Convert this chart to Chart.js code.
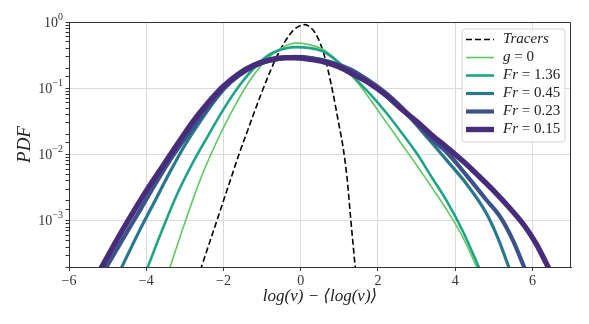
<!DOCTYPE html>
<html><head><meta charset="utf-8">
<script src="https://cdn.jsdelivr.net/npm/chart.js@4.4.0/dist/chart.umd.min.js"></script>
<style>html,body{margin:0;padding:0;background:#fff}</style>
</head><body>
<canvas id="c" width="589" height="324"></canvas>
<script>
// ---- data (x = log(nu) - <log(nu)>, y = PDF) ----
const seriesLabels = ['Tracers', 'g = 0', 'Fr = 1.36', 'Fr = 0.45', 'Fr = 0.23', 'Fr = 0.15'];

const tracerX   = [-2.6,-2.4,-2.2,-2.0,-1.8,-1.6,-1.4,-1.2,-1.0,-0.8,-0.6,-0.4,-0.2,0.0,0.1,0.2,0.4,0.6,0.8,1.0,1.1,1.2,1.3,1.42];
const tracerPDF = [1.78e-4,3.98e-4,8.91e-4,2.0e-3,4.47e-3,0.0100,0.0209,0.0437,0.0891,0.174,0.316,0.513,0.741,0.891,0.912,0.871,0.646,0.331,0.107,0.0263,0.0126,4.47e-3,1.0e-3,1.78e-4];

const g0X   = [-3.4,-3.0,-2.6,-2.2,-1.8,-1.4,-1.0,-0.6,-0.3,-0.1,0.2,0.6,1.0,1.4,1.8,2.2,2.6,3.0,3.4,3.8,4.2,4.6];
const g0PDF = [1.86e-4,9.33e-4,4.17e-3,0.0145,0.0427,0.110,0.229,0.372,0.457,0.479,0.457,0.380,0.245,0.138,0.0676,0.0316,0.0148,6.92e-3,3.16e-3,1.41e-3,5.62e-4,1.78e-4];

const fr136X   = [-4.0,-3.6,-3.2,-2.8,-2.4,-2.0,-1.6,-1.2,-0.8,-0.4,-0.1,0.2,0.6,1.0,1.4,1.8,2.2,2.6,3.0,3.4,3.8,4.2,4.65];
const fr136PDF = [1.74e-4,6.92e-4,2.51e-3,7.41e-3,0.0191,0.0479,0.107,0.204,0.324,0.398,0.417,0.407,0.355,0.240,0.141,0.0813,0.0437,0.0219,0.0105,4.47e-3,1.91e-3,6.92e-4,1.78e-4];

const fr045X   = [-4.65,-4.2,-3.8,-3.4,-3.0,-2.6,-2.2,-1.8,-1.4,-1.0,-0.6,-0.15,0.3,0.8,1.3,1.8,2.3,2.8,3.3,3.8,4.3,4.8,5.1,5.4];
const fr045PDF = [1.9e-4,6.61e-4,1.86e-3,5.25e-3,0.0138,0.0316,0.0676,0.126,0.191,0.240,0.282,0.302,0.288,0.245,0.186,0.120,0.0708,0.0372,0.0174,7.94e-3,3.55e-3,1.32e-3,5.62e-4,1.91e-4];

const fr023X   = [-5.05,-4.6,-4.2,-3.8,-3.4,-3.0,-2.6,-2.2,-1.8,-1.4,-1.0,-0.6,-0.15,0.3,0.8,1.3,1.8,2.3,2.8,3.3,3.8,4.3,4.8,5.2,5.5,5.8];
const fr023PDF = [1.91e-4,5.37e-4,1.32e-3,3.31e-3,7.94e-3,0.0174,0.0363,0.0724,0.126,0.186,0.240,0.275,0.295,0.282,0.245,0.191,0.126,0.0759,0.0398,0.0191,0.0105,4.79e-3,2.09e-3,1.07e-3,5.01e-4,1.91e-4];

const fr015X   = [-5.2,-4.8,-4.4,-4.0,-3.6,-3.2,-2.8,-2.4,-2.0,-1.6,-1.2,-0.8,-0.4,-0.15,0.2,0.6,1.0,1.4,1.8,2.2,2.6,3.0,3.4,3.8,4.2,4.6,5.0,5.4,5.8,6.1,6.45];
const fr015PDF = [1.78e-4,4.68e-4,1.17e-3,2.82e-3,6.31e-3,0.0141,0.0309,0.0603,0.107,0.166,0.224,0.269,0.288,0.288,0.275,0.251,0.209,0.158,0.117,0.0794,0.0490,0.0316,0.0195,0.0126,7.94e-3,4.79e-3,2.82e-3,1.58e-3,8.32e-4,4.47e-4,1.78e-4];

const xTickValues = [-6,-4,-2,0,2,4,6];
const xTickLabels = ['\u22126','\u22124','\u22122','0','2','4','6'];
const yDecades   = [1, 0.1, 0.01, 0.001];
const yExponents = ['0','\u22121','\u22122','\u22123'];

// ---- styling ----
const SERIF = '"Liberation Serif", "DejaVu Serif", serif';
const colors = ['#000000', '#5ec962', '#21a386', '#2a788e', '#3b528b', '#472c7a'];
const widths = [1.6, 1.6, 2.6, 3.2, 4.2, 5.4];

function pts(xs, ys) { return xs.map((x, i) => ({x: x, y: ys[i]})); }
const xs = [tracerX, g0X, fr136X, fr045X, fr023X, fr015X];
const ys = [tracerPDF, g0PDF, fr136PDF, fr045PDF, fr023PDF, fr015PDF];

const datasets = seriesLabels.map((lab, i) => ({
  label: lab,
  data: pts(xs[i], ys[i]),
  borderColor: colors[i],
  backgroundColor: colors[i],
  borderWidth: widths[i],
  borderDash: i === 0 ? [6, 3] : [],
  pointRadius: 0,
  fill: false,
  cubicInterpolationMode: 'monotone',
  order: 6 - i
}));

function isDecade(v) {
  const l = Math.log10(v);
  return Math.abs(l - Math.round(l)) < 1e-6;
}

function drawMath(ctx, text, x, y, size) {
  const re = /([A-Za-z]+)|([^A-Za-z]+)/g;
  let m, cx = x;
  while ((m = re.exec(text)) !== null) {
    const italic = !!m[1];
    ctx.font = (italic ? 'italic ' : '') + size + 'px ' + SERIF;
    ctx.fillText(m[0], cx, y);
    cx += ctx.measureText(m[0]).width;
  }
}

const decor = {
  id: 'decor',
  afterDraw(chart) {
    const ctx = chart.ctx, a = chart.chartArea;
    const ys = chart.scales.y;
    ctx.save();
    // top/right spines
    ctx.strokeStyle = '#333';
    ctx.lineWidth = 1;
    ctx.beginPath();
    ctx.moveTo(a.left, a.top + 0.5);
    ctx.lineTo(a.right - 0.5, a.top + 0.5);
    ctx.lineTo(a.right - 0.5, a.bottom);
    ctx.stroke();

    // y tick labels 10^n
    ctx.fillStyle = '#333';
    ctx.textBaseline = 'middle';
    ctx.textAlign = 'left';
    const xEnd = a.left - 6;
    yDecades.forEach((v, i) => {
      const py = ys.getPixelForValue(v);
      ctx.font = '10px ' + SERIF;
      const ew = ctx.measureText(yExponents[i]).width;
      ctx.font = '14px ' + SERIF;
      const bw = ctx.measureText('10').width;
      ctx.fillText('10', xEnd - ew - bw, py + 1);
      ctx.font = '10px ' + SERIF;
      ctx.fillText(yExponents[i], xEnd - ew, py - 5);
    });

    // legend
    const bx = 462, by = 29, bwid = 103, bh = 113, r = 3;
    ctx.beginPath();
    ctx.moveTo(bx + r, by);
    ctx.lineTo(bx + bwid - r, by);
    ctx.quadraticCurveTo(bx + bwid, by, bx + bwid, by + r);
    ctx.lineTo(bx + bwid, by + bh - r);
    ctx.quadraticCurveTo(bx + bwid, by + bh, bx + bwid - r, by + bh);
    ctx.lineTo(bx + r, by + bh);
    ctx.quadraticCurveTo(bx, by + bh, bx, by + bh - r);
    ctx.lineTo(bx, by + r);
    ctx.quadraticCurveTo(bx, by, bx + r, by);
    ctx.closePath();
    ctx.fillStyle = 'rgba(255,255,255,0.8)';
    ctx.fill();
    ctx.strokeStyle = '#d4d4d4';
    ctx.lineWidth = 1;
    ctx.stroke();

    chart.data.datasets.forEach((ds, i) => {
      const ry = 39.5 + i * 18;
      ctx.beginPath();
      ctx.setLineDash(ds.borderDash || []);
      ctx.strokeStyle = ds.borderColor;
      ctx.lineWidth = ds.borderWidth;
      ctx.moveTo(466, ry);
      ctx.lineTo(494, ry);
      ctx.stroke();
      ctx.setLineDash([]);
      ctx.fillStyle = '#222';
      ctx.textBaseline = 'middle';
      drawMath(ctx, ds.label, 503, ry, 15);
    });
    ctx.restore();
  }
};

new Chart(document.getElementById('c'), {
  type: 'line',
  data: { datasets: datasets },
  options: {
    responsive: false,
    animation: false,
    events: [],
    layout: { padding: { top: 22, right: 18, bottom: 0, left: 0 } },
    plugins: { legend: { display: false }, tooltip: { enabled: false } },
    scales: {
      x: {
        type: 'linear', min: -6, max: 7,
        afterBuildTicks: s => { s.ticks = xTickValues.map(v => ({ value: v })); },
        afterFit: s => { s.height = 57; },
        ticks: {
          callback: (v) => xTickLabels[xTickValues.indexOf(v)],
          font: { family: SERIF, size: 14 }, color: '#333', padding: 2, maxRotation: 0, autoSkip: false
        },
        grid: { color: '#dadada', lineWidth: 1, tickLength: 4, tickColor: '#333' },
        border: { color: '#333', width: 1 },
        title: {
          display: true, text: 'log(\u03bd) \u2212 \u27e8log(\u03bd)\u27e9',
          font: { family: SERIF, size: 17, style: 'italic' }, color: '#222',
          padding: { top: 0, bottom: 17 }
        }
      },
      y: {
        type: 'logarithmic', min: 2e-4, max: 1,
        afterFit: s => { s.width = 69; },
        ticks: { display: false, autoSkip: false },
        grid: {
          color: c => (c.tick && isDecade(c.tick.value)) ? '#dadada' : 'rgba(0,0,0,0)',
          tickColor: '#333', tickLength: 3.5, lineWidth: 1
        },
        border: { color: '#333', width: 1 },
        title: {
          display: true, text: 'PDF',
          font: { family: SERIF, size: 19, style: 'italic' }, color: '#222',
          padding: { top: 14, bottom: 0 }
        }
      }
    }
  },
  plugins: [decor]
});
</script>
</body></html>
